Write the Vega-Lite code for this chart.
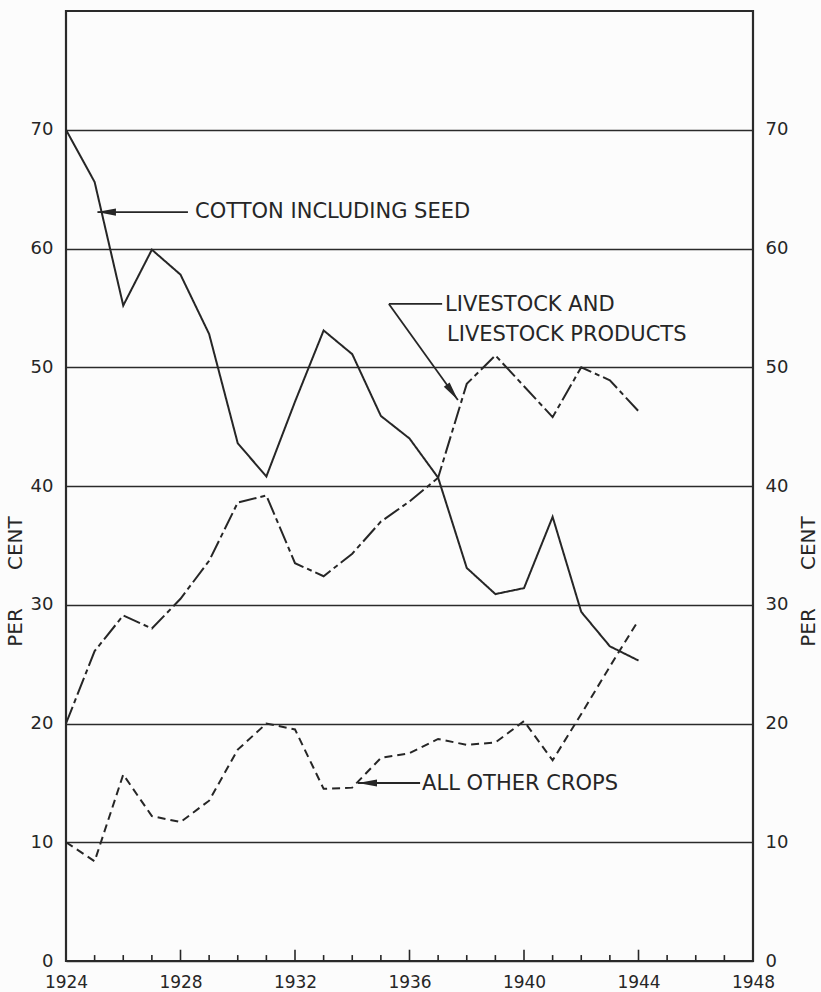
{
  "$schema": "https://vega.github.io/schema/vega-lite/v6.json",
  "width": 687,
  "height": 950,
  "autosize": "none",
  "padding": {"left": 66, "top": 11, "right": 68, "bottom": 31},
  "background": "#fcfcfc",
  "config": {
    "view": {"stroke": "#2a2a2a", "strokeWidth": 2.2},
    "font": "DejaVu Sans"
  },
  "datasets": {
    "series": [
      {"year": 1924, "series": "Cotton including seed", "value": 70.0},
      {"year": 1925, "series": "Cotton including seed", "value": 65.6},
      {"year": 1926, "series": "Cotton including seed", "value": 55.2},
      {"year": 1927, "series": "Cotton including seed", "value": 59.9},
      {"year": 1928, "series": "Cotton including seed", "value": 57.8},
      {"year": 1929, "series": "Cotton including seed", "value": 52.8},
      {"year": 1930, "series": "Cotton including seed", "value": 43.6},
      {"year": 1931, "series": "Cotton including seed", "value": 40.8},
      {"year": 1932, "series": "Cotton including seed", "value": 47.1},
      {"year": 1933, "series": "Cotton including seed", "value": 53.1},
      {"year": 1934, "series": "Cotton including seed", "value": 51.1},
      {"year": 1935, "series": "Cotton including seed", "value": 45.9},
      {"year": 1936, "series": "Cotton including seed", "value": 44.0},
      {"year": 1937, "series": "Cotton including seed", "value": 40.7},
      {"year": 1938, "series": "Cotton including seed", "value": 33.1},
      {"year": 1939, "series": "Cotton including seed", "value": 30.9},
      {"year": 1940, "series": "Cotton including seed", "value": 31.4},
      {"year": 1941, "series": "Cotton including seed", "value": 37.4},
      {"year": 1942, "series": "Cotton including seed", "value": 29.4},
      {"year": 1943, "series": "Cotton including seed", "value": 26.5},
      {"year": 1944, "series": "Cotton including seed", "value": 25.3},
      {"year": 1924, "series": "Livestock and livestock products", "value": 20.0},
      {"year": 1925, "series": "Livestock and livestock products", "value": 26.1},
      {"year": 1926, "series": "Livestock and livestock products", "value": 29.1},
      {"year": 1927, "series": "Livestock and livestock products", "value": 28.0},
      {"year": 1928, "series": "Livestock and livestock products", "value": 30.5},
      {"year": 1929, "series": "Livestock and livestock products", "value": 33.7},
      {"year": 1930, "series": "Livestock and livestock products", "value": 38.6},
      {"year": 1931, "series": "Livestock and livestock products", "value": 39.2},
      {"year": 1932, "series": "Livestock and livestock products", "value": 33.5},
      {"year": 1933, "series": "Livestock and livestock products", "value": 32.4},
      {"year": 1934, "series": "Livestock and livestock products", "value": 34.3},
      {"year": 1935, "series": "Livestock and livestock products", "value": 37.0},
      {"year": 1936, "series": "Livestock and livestock products", "value": 38.7},
      {"year": 1937, "series": "Livestock and livestock products", "value": 40.7},
      {"year": 1938, "series": "Livestock and livestock products", "value": 48.6},
      {"year": 1939, "series": "Livestock and livestock products", "value": 51.0},
      {"year": 1940, "series": "Livestock and livestock products", "value": 48.4},
      {"year": 1941, "series": "Livestock and livestock products", "value": 45.8},
      {"year": 1942, "series": "Livestock and livestock products", "value": 50.0},
      {"year": 1943, "series": "Livestock and livestock products", "value": 48.9},
      {"year": 1944, "series": "Livestock and livestock products", "value": 46.3},
      {"year": 1924, "series": "All other crops", "value": 10.0},
      {"year": 1925, "series": "All other crops", "value": 8.4},
      {"year": 1926, "series": "All other crops", "value": 15.7},
      {"year": 1927, "series": "All other crops", "value": 12.2},
      {"year": 1928, "series": "All other crops", "value": 11.7},
      {"year": 1929, "series": "All other crops", "value": 13.5},
      {"year": 1930, "series": "All other crops", "value": 17.8},
      {"year": 1931, "series": "All other crops", "value": 20.0},
      {"year": 1932, "series": "All other crops", "value": 19.5},
      {"year": 1933, "series": "All other crops", "value": 14.5},
      {"year": 1934, "series": "All other crops", "value": 14.6},
      {"year": 1935, "series": "All other crops", "value": 17.1},
      {"year": 1936, "series": "All other crops", "value": 17.5},
      {"year": 1937, "series": "All other crops", "value": 18.7},
      {"year": 1938, "series": "All other crops", "value": 18.2},
      {"year": 1939, "series": "All other crops", "value": 18.4},
      {"year": 1940, "series": "All other crops", "value": 20.2},
      {"year": 1941, "series": "All other crops", "value": 16.9},
      {"year": 1942, "series": "All other crops", "value": 20.8},
      {"year": 1943, "series": "All other crops", "value": 24.8},
      {"year": 1944, "series": "All other crops", "value": 28.7}
    ],
    "ticks": [
      {"year": 1925}, {"year": 1926}, {"year": 1927}, {"year": 1928},
      {"year": 1929}, {"year": 1930}, {"year": 1931}, {"year": 1932},
      {"year": 1933}, {"year": 1934}, {"year": 1935}, {"year": 1936},
      {"year": 1937}, {"year": 1938}, {"year": 1939}, {"year": 1940},
      {"year": 1941}, {"year": 1942}, {"year": 1943}, {"year": 1944},
      {"year": 1945}, {"year": 1946}, {"year": 1947}
    ],
    "leaders": [
      {"x": 1925.1, "y": 63.07, "x2": 1928.26, "y2": 63.07},
      {"x": 1935.28, "y": 55.33, "x2": 1937.14, "y2": 55.33},
      {"x": 1935.28, "y": 55.33, "x2": 1937.69, "y2": 47.24},
      {"x": 1934.2, "y": 14.99, "x2": 1936.37, "y2": 14.99}
    ],
    "arrows": [
      {"year": 1925.08, "value": 63.07, "target": "cotton"},
      {"year": 1937.69, "value": 47.24, "target": "livestock"},
      {"year": 1934.2, "value": 14.99, "target": "other"}
    ],
    "notes": [
      {"year": 1928.51, "value": 63.07, "text": "COTTON INCLUDING SEED"},
      {"year": 1937.24, "value": 55.24, "text": "LIVESTOCK AND"},
      {"year": 1937.31, "value": 52.72, "text": "LIVESTOCK PRODUCTS"},
      {"year": 1936.44, "value": 14.91, "text": "ALL OTHER CROPS"}
    ]
  },
  "layer": [
    {
      "data": {"name": "series"},
      "mark": {"type": "line", "color": "#262626", "strokeWidth": 2},
      "encoding": {
        "x": {
          "field": "year",
          "type": "quantitative",
          "scale": {"domain": [1924, 1948], "nice": false, "zero": false},
          "axis": {
            "values": [1924, 1928, 1932, 1936, 1940, 1944, 1948],
            "format": "d",
            "labelFlush": false,
            "labelOverlap": false,
            "ticks": false,
            "domain": false,
            "grid": false,
            "labelBaseline": "alphabetic",
            "labelPadding": 26,
            "labelFontSize": 17,
            "labelColor": "#262626",
            "title": null
          }
        },
        "y": {
          "field": "value",
          "type": "quantitative",
          "scale": {"domain": [0, 80], "nice": false, "zero": true},
          "axis": {
            "orient": "left",
            "values": [0, 10, 20, 30, 40, 50, 60, 70],
            "grid": true,
            "gridColor": "#2a2a2a",
            "gridWidth": 1.6,
            "gridOpacity": 1,
            "domain": false,
            "ticks": false,
            "labelOverlap": false,
            "labelPadding": 13,
            "labelFontSize": 18,
            "labelColor": "#262626",
            "title": "PER\u00a0\u00a0\u00a0\u00a0\u00a0\u00a0CENT",
            "titleFontSize": 20,
            "titleFontWeight": "normal",
            "titleColor": "#262626",
            "titleAngle": 270,
            "titleX": -51,
            "titleY": 570,
            "titleAlign": "center",
            "titleBaseline": "middle"
          }
        },
        "detail": {"field": "series"},
        "strokeDash": {
          "field": "series",
          "type": "nominal",
          "scale": {
            "domain": ["Cotton including seed", "Livestock and livestock products", "All other crops"],
            "range": [[1, 0], [18, 4, 5, 4], [8, 5]]
          },
          "legend": null
        }
      }
    },
    {
      "data": {"name": "series"},
      "mark": {"type": "point", "opacity": 0},
      "encoding": {
        "x": {"field": "year", "type": "quantitative", "axis": null},
        "y": {
          "field": "value",
          "type": "quantitative",
          "axis": {
            "orient": "right",
            "values": [0, 10, 20, 30, 40, 50, 60, 70],
            "grid": false,
            "domain": false,
            "ticks": false,
            "labelOverlap": false,
            "labelPadding": 12,
            "labelFontSize": 18,
            "labelColor": "#262626",
            "title": "PER\u00a0\u00a0\u00a0\u00a0\u00a0\u00a0CENT",
            "titleFontSize": 20,
            "titleFontWeight": "normal",
            "titleColor": "#262626",
            "titleAngle": 270,
            "titleX": 55,
            "titleY": 570,
            "titleAlign": "center",
            "titleBaseline": "middle"
          }
        }
      }
    },
    {
      "data": {"name": "ticks"},
      "transform": [{"filter": "datum.year % 4 !== 0"}],
      "mark": {"type": "rule", "color": "#262626", "strokeWidth": 1.6},
      "encoding": {
        "x": {"field": "year", "type": "quantitative", "axis": null},
        "y": {"datum": 0, "axis": null},
        "y2": {"datum": 0.5}
      }
    },
    {
      "data": {"name": "ticks"},
      "transform": [{"filter": "datum.year % 4 === 0"}],
      "mark": {"type": "rule", "color": "#262626", "strokeWidth": 1.6},
      "encoding": {
        "x": {"field": "year", "type": "quantitative", "axis": null},
        "y": {"datum": 0, "axis": null},
        "y2": {"datum": 0.95}
      }
    },
    {
      "data": {"name": "leaders"},
      "mark": {"type": "rule", "color": "#262626", "strokeWidth": 1.8},
      "encoding": {
        "x": {"field": "x", "type": "quantitative", "axis": null},
        "x2": {"field": "x2"},
        "y": {"field": "y", "type": "quantitative", "axis": null},
        "y2": {"field": "y2"}
      }
    },
    {
      "data": {"name": "arrows"},
      "transform": [{"filter": "datum.target !== 'livestock'"}],
      "mark": {
        "type": "point",
        "shape": "M0,0L2,-0.38L2,0.38Z",
        "filled": true,
        "color": "#262626",
        "opacity": 1,
        "size": 361,
        "strokeWidth": 0,
        "angle": 0
      },
      "encoding": {
        "x": {"field": "year", "type": "quantitative", "axis": null},
        "y": {"field": "value", "type": "quantitative", "axis": null}
      }
    },
    {
      "data": {"name": "arrows"},
      "transform": [{"filter": "datum.target === 'livestock'"}],
      "mark": {
        "type": "point",
        "shape": "M0,0L2,-0.38L2,0.38Z",
        "filled": true,
        "color": "#262626",
        "opacity": 1,
        "size": 361,
        "strokeWidth": 0,
        "angle": 234
      },
      "encoding": {
        "x": {"field": "year", "type": "quantitative", "axis": null},
        "y": {"field": "value", "type": "quantitative", "axis": null}
      }
    },
    {
      "data": {"name": "notes"},
      "mark": {
        "type": "text",
        "align": "left",
        "baseline": "middle",
        "fontSize": 21,
        "color": "#262626",
        "font": "DejaVu Sans"
      },
      "encoding": {
        "x": {"field": "year", "type": "quantitative", "axis": null},
        "y": {"field": "value", "type": "quantitative", "axis": null},
        "text": {"field": "text"}
      }
    }
  ],
  "resolve": {"axis": {"x": "independent", "y": "independent"}}
}
